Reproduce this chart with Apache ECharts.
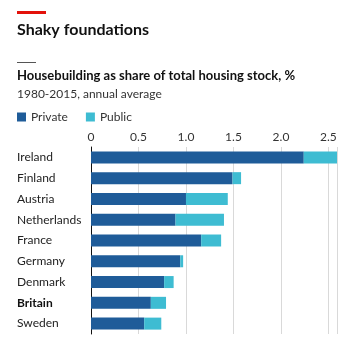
<!DOCTYPE html>
<html>
<head>
<meta charset="utf-8">
<script src="https://cdn.jsdelivr.net/npm/echarts@6/dist/echarts.min.js"></script>
<style>
  html, body { margin: 0; padding: 0; background: #fff; }
  #chart { width: 360px; height: 353px; }
</style>
</head>
<body>
<div id="chart"></div>
<script>
const countries = ['Ireland', 'Finland', 'Austria', 'Netherlands', 'France', 'Germany', 'Denmark', 'Britain', 'Sweden'];
const privateShare = [2.24, 1.49, 1.0, 0.89, 1.16, 0.94, 0.77, 0.63, 0.56];
const publicShare = [0.35, 0.09, 0.44, 0.51, 0.21, 0.03, 0.10, 0.16, 0.18];
const xTicks = [0, 0.5, 1.0, 1.5, 2.0, 2.5];

const font = 'Lato, "Open Sans", sans-serif';
const chart = echarts.init(document.getElementById('chart'));

chart.setOption({
  animation: false,
  textStyle: { fontFamily: font },
  title: [
    { text: 'Shaky foundations', left: 17, top: 22, padding: 0,
      textStyle: { fontSize: 16, fontWeight: 'bold', color: '#111', fontFamily: font } },
    { text: 'Housebuilding as share of total housing stock, %', left: 17, top: 69, padding: 0,
      textStyle: { fontSize: 13, fontWeight: 'bold', color: '#111', fontFamily: font } },
    { text: '1980-2015, annual average', left: 17, top: 88, padding: 0,
      textStyle: { fontSize: 12, fontWeight: 'normal', color: '#333', fontFamily: font } }
  ],
  graphic: [
    { type: 'rect', left: 17, top: 11, shape: { width: 29, height: 3 }, style: { fill: '#e3120b' } },
    { type: 'rect', left: 17, top: 62, shape: { width: 19, height: 1 }, style: { fill: '#555' } }
  ],
  legend: {
    left: 17, top: 111, padding: 0, icon: 'rect', itemWidth: 9, itemHeight: 9, itemGap: 18,
    textStyle: { fontSize: 12, color: '#333', fontFamily: font }
  },
  grid: { left: 91, right: 23, top: 147, bottom: 19 },
  xAxis: {
    type: 'value', position: 'top', min: 0, max: 2.59, interval: 0.5,
    axisLine: { show: false }, axisTick: { show: false },
    splitLine: { lineStyle: { color: '#d9d9d9', width: 1 } },
    axisLabel: {
      margin: 4, fontSize: 12, color: '#333', fontFamily: font,
      showMaxLabel: false,
      formatter: v => xTicks.indexOf(v) === 0 ? '0' : v.toFixed(1)
    }
  },
  yAxis: {
    type: 'category', data: countries, inverse: true,
    axisLine: { show: true, lineStyle: { color: '#111', width: 1 } },
    axisTick: { show: false },
    axisLabel: {
      align: 'left', margin: 74, fontSize: 12, color: '#222', fontFamily: font,
      formatter: v => v === 'Britain' ? '{b|' + v + '}' : v,
      rich: { b: { fontWeight: 'bold', fontSize: 12, color: '#111', fontFamily: font } }
    }
  },
  series: [
    { name: 'Private', type: 'bar', stack: 'total', data: privateShare, barWidth: 12,
      itemStyle: { color: '#1f5c99' } },
    { name: 'Public', type: 'bar', stack: 'total', data: publicShare, barWidth: 12,
      itemStyle: { color: '#3ebcd2' } }
  ]
});
</script>
</body>
</html>
